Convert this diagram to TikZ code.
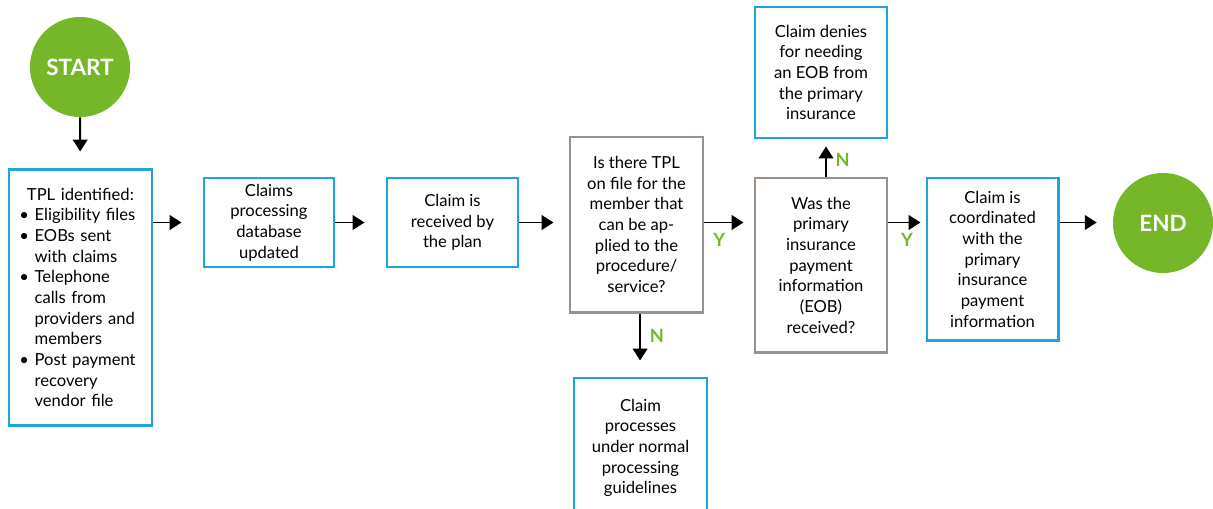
\documentclass[tikz,border=0pt]{standalone}
\usepackage{fontspec}
\setmainfont{Lato}
\usetikzlibrary{arrows.meta}
\definecolor{boxblue}{HTML}{1BA6DE}
\definecolor{decgray}{HTML}{9B918A}
\definecolor{termgreen}{HTML}{76B72A}
\begin{document}
\begin{tikzpicture}[line cap=butt,line join=miter,x=0.025cm,y=-0.025cm,
		>={Triangle[length=8.5pt,width=10.5pt]},
		every node/.style={font=\fontsize{11.8}{14.7}\selectfont,align=center,inner sep=0pt},
		box/.style={draw=boxblue,line width=2.1pt,fill=white},
		decision/.style={draw=decgray,line width=2.1pt,fill=white},
		terminal/.style={circle,fill=termgreen,minimum size=2.5cm,text=white,font=\fontsize{16}{16}\selectfont\bfseries},
		arr/.style={->,line width=1.3pt},
		yn/.style={text=termgreen,font=\fontsize{13}{13}\selectfont\bfseries}]
	\useasboundingbox (0,0) rectangle (1213,508);
	\node[terminal] (start) at (80,67) {START};
	\node[box,minimum width=3.575cm,minimum height=6.375cm,text width=3.05cm,align=left] (tpl) at (80.5,297.5)
		{\hspace{0.45em}TPL identified:\\
		 \textbullet\ Eligibility files\\
		 \textbullet\ EOBs sent\\
		 \phantom{\textbullet\ }with claims\\
		 \textbullet\ Telephone\\
		 \phantom{\textbullet\ }calls from\\
		 \phantom{\textbullet\ }providers and\\
		 \phantom{\textbullet\ }members\\
		 \textbullet\ Post payment\\
		 \phantom{\textbullet\ }recovery\\
		 \phantom{\textbullet\ }vendor file};
	\node[box,minimum width=3.25cm,minimum height=2.225cm] (cpd) at (269,222.5) {Claims\\processing\\database\\updated};
	\node[box,minimum width=3.275cm,minimum height=2.225cm] (rec) at (452.5,222.5) {Claim is\\received by\\the plan};
	\node[decision,minimum width=3.325cm,minimum height=4.375cm] (dec1) at (636.5,224.5)
		{Is there TPL\\on file for the\\member that\\can be ap-\\plied to the\\procedure/\\service?};
	\node[box,minimum width=3.325cm,minimum height=3.5cm] (norm) at (640.5,448)
		{Claim\\processes\\under normal\\processing\\guidelines};
	\node[decision,minimum width=3.3cm,minimum height=4.35cm] (dec2) at (821,265)
		{Was the\\primary\\insurance\\payment\\information\\(EOB)\\received?};
	\node[box,minimum width=3.3cm,minimum height=3.275cm] (deny) at (821,72.5)
		{Claim denies\\for needing\\an EOB from\\the primary\\insurance};
	\node[box,minimum width=3.275cm,minimum height=4.05cm] (coord) at (992.5,259)
		{Claim is\\coordinated\\with the\\primary\\insurance\\payment\\information};
	\node[terminal] (finish) at (1163,223) {END};
	% connectors
	\draw[arr,shorten >=0.425cm] (start) -- (tpl);
	\draw[arr,shorten >=0.525cm] (tpl.east |- cpd) -- (cpd.west);
	\draw[arr,shorten >=0.525cm] (cpd) -- (rec);
	\draw[arr,shorten >=0.375cm] (rec) -- (rec -| dec1.west);
	\draw[arr,shorten >=0.25cm] (dec1.east |- rec) -- (rec -| dec2.west)
		node[yn,pos=0.3,below=0.25cm] (y1) {Y};
	\draw[arr,shorten >=0.4cm] ([xshift=0.09cm]dec1.south) -- ([xshift=0.09cm]dec1.south |- norm.north)
		node[yn,pos=0.35,right=0.22cm] (n1) {N};
	\draw[arr,shorten >=0.175cm] ([xshift=0.125cm]dec2.north) -- ([xshift=0.125cm]dec2.north |- deny.south)
		node[yn,pos=0.45,right=0.22cm] (n2) {N};
	\draw[arr,shorten >=0.125cm] (dec2.east |- rec) -- (rec -| coord.west)
		node[yn,pos=0.5,below=0.25cm] (y2) {Y};
	\draw[arr,shorten >=0.4cm] (coord.east |- rec) -- (rec -| finish.west);
\end{tikzpicture}
\end{document}
